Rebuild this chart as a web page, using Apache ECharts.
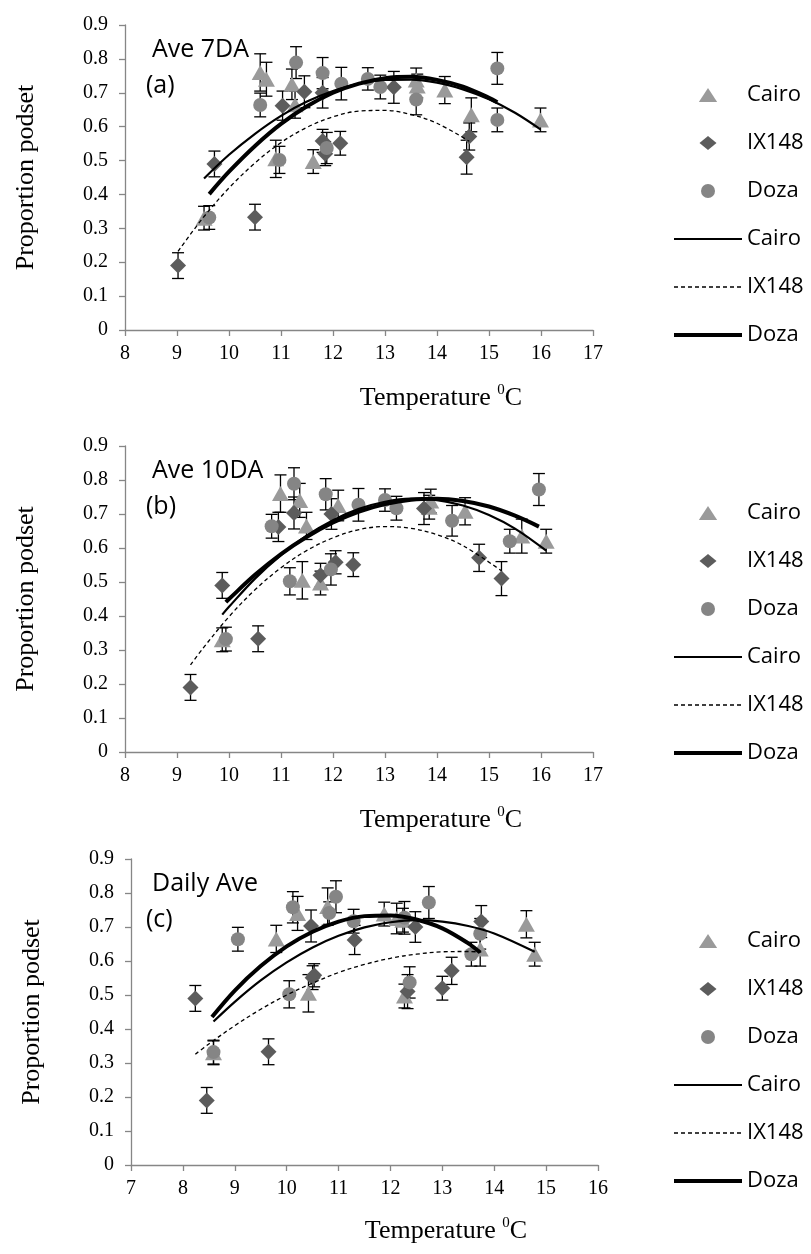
<!DOCTYPE html>
<html>
<head>
<meta charset="utf-8">
<script src="https://cdn.jsdelivr.net/npm/echarts@6/dist/echarts.min.js"></script>
<style>
html,body{margin:0;padding:0;background:#fff;}
#c{width:811px;height:1254px;}
</style>
</head>
<body>
<div id="c"></div>
<script>
// ---------- data ----------
// proportion podset per cultivar (same observations in the three panels)
const cairoY = [0.33, 0.76, 0.74, 0.505, 0.725, 0.665, 0.497, 0.738, 0.72, 0.708, 0.635, 0.62];
const cairoErr = [0.035, 0.055, 0.05, 0.055, 0.045, 0.04, 0.035, 0.035, 0.035, 0.04, 0.05, 0.035];
const ixY = [0.19, 0.49, 0.333, 0.662, 0.703, 0.70, 0.558, 0.52, 0.551, 0.716, 0.51, 0.571];
const ixErr = [0.038, 0.038, 0.038, 0.043, 0.047, 0.045, 0.034, 0.035, 0.035, 0.047, 0.05, 0.04];
const dozaY = [0.332, 0.664, 0.502, 0.789, 0.758, 0.537, 0.727, 0.741, 0.717, 0.68, 0.62, 0.772];
const dozaErr = [0.035, 0.035, 0.04, 0.047, 0.046, 0.046, 0.048, 0.033, 0.035, 0.045, 0.035, 0.047];

// temperatures (x) per panel
const cairoXa = [9.52, 10.60, 10.72, 10.90, 11.21, 11.27, 11.62, 13.60, 13.62, 14.15, 14.66, 15.99];
const cairoXb = [9.87, 10.99, 11.36, 11.41, 12.10, 11.49, 11.76, 13.88, 13.85, 14.54, 15.63, 16.10];
const cairoXc = [8.59, 10.79, 10.21, 10.42, 12.12, 9.80, 12.27, 11.88, 12.24, 14.62, 13.73, 14.78];
const ixXa = [9.02, 9.72, 10.50, 11.03, 11.45, 11.80, 11.80, 11.85, 12.14, 13.17, 14.57, 14.62];
const ixXb = [9.26, 9.87, 10.56, 10.95, 11.25, 11.97, 12.05, 11.76, 12.39, 13.75, 15.24, 14.81];
const ixXc = [8.46, 8.24, 9.65, 11.31, 10.47, 12.48, 10.53, 13.00, 10.50, 13.75, 12.33, 13.18];
const dozaXa = [9.62, 10.60, 10.97, 11.29, 11.80, 11.88, 12.16, 12.67, 12.91, 13.60, 15.16, 15.16];
const dozaXb = [9.94, 10.82, 11.17, 11.25, 11.86, 11.96, 12.49, 13.00, 13.22, 14.29, 15.40, 15.96];
const dozaXc = [8.59, 9.06, 10.05, 10.95, 10.12, 12.37, 12.27, 10.82, 11.29, 13.73, 13.56, 12.74];

// trend lines
const trendCairoXa = [9.52, 10, 10.5, 11, 11.5, 12, 12.5, 13, 13.5, 14, 14.5, 15, 15.5, 15.99];
const trendCairoYa = [0.447, 0.517, 0.579, 0.632, 0.674, 0.705, 0.727, 0.738, 0.739, 0.730, 0.710, 0.681, 0.641, 0.592];
const trendIxXa = [9.02, 9.5, 10, 10.5, 11, 11.5, 12, 12.5, 13, 13.5, 14, 14.62];
const trendIxYa = [0.232, 0.331, 0.419, 0.493, 0.553, 0.598, 0.629, 0.646, 0.648, 0.636, 0.610, 0.557];
const trendDozaXa = [9.62, 10, 10.5, 11, 11.5, 12, 12.5, 13, 13.5, 14, 14.5, 15, 15.16];
const trendDozaYa = [0.401, 0.467, 0.543, 0.608, 0.660, 0.700, 0.727, 0.743, 0.747, 0.738, 0.718, 0.685, 0.672];

const trendCairoXb = [9.87, 10, 10.5, 11, 11.5, 12, 12.5, 13, 13.5, 14, 14.5, 15, 15.5, 16.1];
const trendCairoYb = [0.404, 0.427, 0.510, 0.579, 0.637, 0.682, 0.715, 0.736, 0.745, 0.741, 0.725, 0.697, 0.657, 0.592];
const trendIxXb = [9.26, 9.5, 10, 10.5, 11, 11.5, 12, 12.5, 13, 13.5, 14, 14.5, 15.24];
const trendIxYb = [0.256, 0.305, 0.398, 0.477, 0.542, 0.593, 0.630, 0.654, 0.663, 0.658, 0.639, 0.607, 0.533];
const trendDozaXb = [9.94, 10, 10.5, 11, 11.5, 12, 12.5, 13, 13.5, 14, 14.5, 15, 15.5, 15.96];
const trendDozaYb = [0.441, 0.450, 0.521, 0.582, 0.633, 0.675, 0.707, 0.729, 0.742, 0.745, 0.738, 0.722, 0.695, 0.663];

const trendCairoXc = [8.59, 9, 9.5, 10, 10.5, 11, 11.5, 12, 12.5, 13, 13.5, 14, 14.78];
const trendCairoYc = [0.422, 0.480, 0.543, 0.596, 0.640, 0.674, 0.699, 0.714, 0.720, 0.716, 0.703, 0.681, 0.627];
const trendIxXc = [8.24, 8.5, 9, 9.5, 10, 10.5, 11, 11.5, 12, 12.5, 13, 13.5, 13.75];
const trendIxYc = [0.326, 0.356, 0.410, 0.458, 0.500, 0.535, 0.566, 0.590, 0.608, 0.620, 0.627, 0.628, 0.626];
const trendDozaXc = [8.56, 9, 9.5, 10, 10.5, 11, 11.5, 12, 12.5, 13, 13.5, 13.73];
const trendDozaYc = [0.435, 0.513, 0.585, 0.643, 0.686, 0.716, 0.732, 0.734, 0.722, 0.696, 0.652, 0.625];

// axes
const xMin = [8, 8, 7];
const xMax = [17, 17, 16];
const yMin = 0, yMax = 0.9, yStep = 0.1;
const panelLabels = [['Ave 7DA', '(a)'], ['Ave 10DA', '(b)'], ['Daily Ave', '(c)']];

// ---------- layout / style ----------
const grids = [
  {left: 125, top: 25, width: 468, height: 305},
  {left: 125, top: 446, width: 468, height: 306},
  {left: 131, top: 859, width: 467, height: 306}
];
const legendTops = [78, 496, 924];
const titleY = [398, 820, 1231];
const titleX = [441, 441, 446];
const AX = '#868686';
const serif = 'Liberation Serif';
const sans = 'Open Sans';

const legendItems = [
  {name: 'Cairo', icon: 'path://M8.5,0L17,13L0,13Z'},
  {name: 'IX148', icon: 'path://M8.5,0L17,7L8.5,14L0,7Z'},
  {name: 'Doza', icon: 'circle'},
  {name: 'Cairo ', itemStyle: {opacity: 0}, lineStyle: {width: 2.2, type: 'solid', color: '#000'}},
  {name: 'IX148 ', itemStyle: {opacity: 0}, lineStyle: {width: 1.3, type: [4, 3], color: '#000'}},
  {name: 'Doza ', itemStyle: {opacity: 0}, lineStyle: {width: 4, type: 'solid', color: '#000'}}
];

const panels = [
  {cx: cairoXa, ix: ixXa, dx: dozaXa,
   tc: [trendCairoXa, trendCairoYa], ti: [trendIxXa, trendIxYa], td: [trendDozaXa, trendDozaYa]},
  {cx: cairoXb, ix: ixXb, dx: dozaXb,
   tc: [trendCairoXb, trendCairoYb], ti: [trendIxXb, trendIxYb], td: [trendDozaXb, trendDozaYb]},
  {cx: cairoXc, ix: ixXc, dx: dozaXc,
   tc: [trendCairoXc, trendCairoYc], ti: [trendIxXc, trendIxYc], td: [trendDozaXc, trendDozaYc]}
];

function renderErr(params, api) {
  const x = api.value(0), y = api.value(1), e = api.value(2);
  const t = api.coord([x, y + e]);
  const b = api.coord([x, y - e]);
  const w = 6;
  const st = {stroke: '#000', lineWidth: 1.3};
  return {type: 'group', children: [
    {type: 'line', shape: {x1: t[0], y1: t[1], x2: b[0], y2: b[1]}, style: st},
    {type: 'line', shape: {x1: t[0] - w, y1: t[1], x2: t[0] + w, y2: t[1]}, style: st},
    {type: 'line', shape: {x1: b[0] - w, y1: b[1], x2: b[0] + w, y2: b[1]}, style: st}
  ]};
}

const xAxis = [], yAxis = [], series = [], legend = [], graphic = [];
panels.forEach((p, i) => {
  xAxis.push({
    gridIndex: i, type: 'value', min: xMin[i], max: xMax[i], interval: 1,
    axisLine: {show: true, onZero: false, lineStyle: {color: AX, width: 1.3}},
    axisTick: {show: true, inside: false, length: 6, lineStyle: {color: AX, width: 1.3}},
    axisLabel: {show: true, color: '#000', fontFamily: serif, fontSize: 20, margin: 14,
                showMinLabel: true, showMaxLabel: true},
    splitLine: {show: false}
  });
  yAxis.push({
    gridIndex: i, type: 'value', min: yMin, max: yMax, interval: yStep,
    name: 'Proportion podset', nameLocation: 'middle', nameGap: 86, nameRotate: 90,
    nameTextStyle: {color: '#000', fontFamily: serif, fontSize: 26},
    axisLine: {show: true, onZero: false, lineStyle: {color: AX, width: 1.3}},
    axisTick: {show: true, inside: false, length: 6, lineStyle: {color: AX, width: 1.3}},
    axisLabel: {show: true, color: '#000', fontFamily: serif, fontSize: 20, margin: 17,
                showMinLabel: true, showMaxLabel: true,
                formatter: v => String(+v.toFixed(1))},
    splitLine: {show: false}
  });

  const groups = [
    {name: 'Cairo', xs: p.cx, ys: cairoY, es: cairoErr, symbol: 'triangle', size: [17, 15], color: '#9a9a9a', z: 3},
    {name: 'IX148', xs: p.ix, ys: ixY, es: ixErr, symbol: 'diamond', size: [16, 16], color: '#5c5c5c', z: 4},
    {name: 'Doza', xs: p.dx, ys: dozaY, es: dozaErr, symbol: 'circle', size: 14, color: '#858585', z: 5}
  ];
  groups.forEach(g => {
    series.push({
      type: 'custom', xAxisIndex: i, yAxisIndex: i, z: 2, silent: true,
      renderItem: renderErr, encode: {x: 0, y: 1},
      data: g.xs.map((x, k) => [x, g.ys[k], g.es[k]])
    });
  });
  groups.forEach(g => {
    series.push({
      type: 'scatter', name: g.name, xAxisIndex: i, yAxisIndex: i, z: g.z,
      symbol: g.symbol, symbolSize: g.size,
      itemStyle: {color: g.color, opacity: 1},
      data: g.xs.map((x, k) => [x, g.ys[k]])
    });
  });
  const lines = [
    {name: 'Cairo ', d: p.tc, ls: {color: '#000', width: 2.2, type: 'solid'}},
    {name: 'IX148 ', d: p.ti, ls: {color: '#000', width: 1.3, type: [4, 3]}},
    {name: 'Doza ', d: p.td, ls: {color: '#000', width: 4, type: 'solid'}}
  ];
  lines.forEach(l => {
    series.push({
      type: 'line', name: l.name, xAxisIndex: i, yAxisIndex: i, z: 6,
      smooth: 0.35, symbol: 'none', showSymbol: false, lineStyle: l.ls,
      itemStyle: {color: 'rgba(0,0,0,0)'},
      data: l.d[0].map((x, k) => [x, l.d[1][k]])
    });
  });

  legend.push({
    orient: 'vertical', left: 667, top: legendTops[i], selectedMode: false,
    itemWidth: 68, itemHeight: 14, itemGap: 24,
    textStyle: {color: '#000', fontFamily: sans, fontSize: 22, lineHeight: 24},
    data: legendItems
  });

  graphic.push({
    type: 'text', left: 152, top: grids[i].top + 12,
    style: {text: panelLabels[i][0], font: '25px "Open Sans"', fill: '#000'}
  });
  graphic.push({
    type: 'text', left: 146, top: grids[i].top + 48,
    style: {text: panelLabels[i][1], font: '25px "Open Sans"', fill: '#000'}
  });
  graphic.push({
    type: 'text', x: titleX[i], y: titleY[i],
    style: {
      text: 'Temperature {s|0}C', font: '26px "Liberation Serif"', fill: '#000',
      align: 'center', verticalAlign: 'middle',
      rich: {s: {fontSize: 15, fontFamily: serif, verticalAlign: 'top', lineHeight: 30}}
    }
  });
});

const chart = echarts.init(document.getElementById('c'), null, {renderer: 'canvas'});
chart.setOption({
  animation: false,
  backgroundColor: '#fff',
  grid: grids,
  xAxis: xAxis,
  yAxis: yAxis,
  legend: legend,
  graphic: graphic,
  series: series
});
</script>
</body>
</html>
